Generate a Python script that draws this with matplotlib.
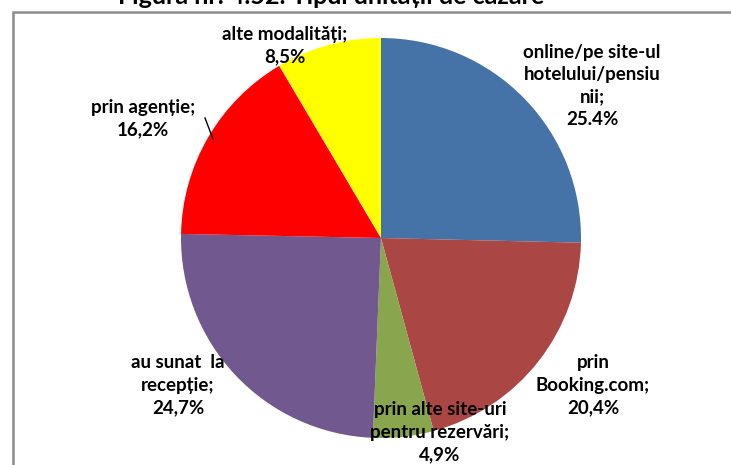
import matplotlib
matplotlib.use("Agg")
import matplotlib.pyplot as plt
from matplotlib.patches import Rectangle

# rezervare - modalitati (%)
categorii = ["online/pe site-ul\nhotelului/pensiu\nnii;", "prin\nBooking.com;",
             "prin alte site-uri\npentru rezervări;", "au sunat  la\nrecepție;",
             "prin agenție;", "alte modalități;"]
procente = [25.4, 20.4, 4.9, 24.7, 16.2, 8.5]
etichete_val = ["25.4%", "20,4%", "4,9%", "24,7%", "16,2%", "8,5%"]
culori = ["#4572A7", "#AA4643", "#89A54E", "#71588F", "#FF0000", "#FFFF00"]

W, H = 731, 465
fig = plt.figure(figsize=(W / 100, H / 100), dpi=100)
ax = fig.add_axes([0, 0, 1, 1])

plt.rcParams["font.family"] = ["Lato", "DejaVu Sans"]

# chenarul graficului
ax.add_patch(Rectangle((13, -10), 740, H - 12 + 10, fill=False,
                       edgecolor="#8c8c8c", linewidth=1.8, zorder=1))

# titlul (partial in afara imaginii)
ax.text(331, H + 3, "Figura nr. 4.52. Tipul unității de cazare", ha="center",
        va="center", fontsize=18, fontweight="bold", color="black")

ax.pie(procente, colors=culori, startangle=90, counterclock=False,
       center=(381, H - 238), radius=200, frame=True,
       wedgeprops=dict(linewidth=0))
ax.set_xlim(0, W)
ax.set_ylim(0, H)
ax.set_aspect("equal")
ax.axis("off")

# pozitiile etichetelor (x, y pixel de sus)
poz = [(592, 86), (593, 385), (440, 432), (178, 385), (143, 119), (285, 46)]
for cat, val, (x, y) in zip(categorii, etichete_val, poz):
    ax.text(x, H - y, cat + "\n" + val, ha="center", va="center",
            fontsize=13.5, fontweight="bold", color="black", linespacing=1.38)

# linie de legatura pentru "prin agentie"
ax.plot([205, 213], [H - 118, H - 139], color="black", linewidth=1)

fig.savefig("out.png", dpi=100)
